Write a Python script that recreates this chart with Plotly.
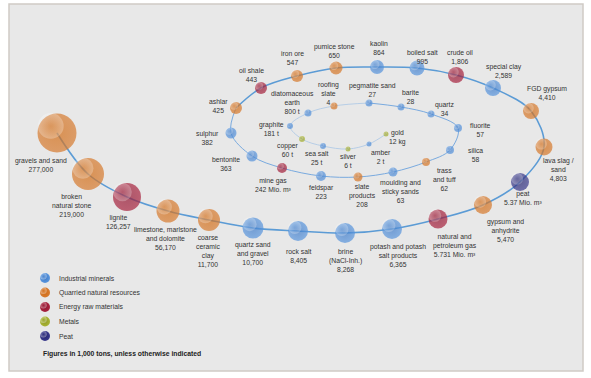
import plotly.graph_objects as go

# ---------------- data ----------------
names = ["gravels and sand", "broken<br>natural stone", "lignite", "limestone, marlstone<br>and dolomite",
         "coarse<br>ceramic<br>clay", "quartz sand<br>and gravel", "rock salt", "brine<br>(NaCl-Inh.)",
         "potash and potash<br>salt products", "natural and<br>petroleum gas", "gypsum and<br>anhydrite", "peat",
         "lava slag /<br>sand", "FGD gypsum", "special clay", "crude oil", "boiled salt", "kaolin",
         "pumice stone", "iron ore", "oil shale", "ashlar", "sulphur", "bentonite", "mine gas", "feldspar",
         "slate<br>products", "moulding and<br>sticky sands", "trass<br>and tuff", "silica", "fluorite", "quartz",
         "barite", "pegmatite sand", "roofing<br>slate", "diatomaceous<br>earth", "graphite", "copper",
         "sea salt", "silver", "amber", "gold"]
values = [277000, 219000, 126257, 56170, 11700, 10700, 8405, 8268, 6365, 5.731, 5470, 5.37, 4803, 4410,
          2589, 1806, 995, 864, 650, 547, 443, 425, 382, 363, 242, 223, 208, 63, 62, 58, 57, 34, 28, 27,
          4, 800, 181, 60, 25, 6, 2, 12]
units = ["", "", "", "", "", "", "", "", "", "Mio. m³", "", "Mio. m³", "", "", "", "", "", "", "", "",
         "", "", "", "", "Mio. m³", "", "", "", "", "", "", "", "", "", "", "t", "t", "t", "t", "t", "t", "kg"]
IM, QR, EN, ME, PE = "Industrial minerals", "Quarried natural resources", "Energy raw materials", "Metals", "Peat"
categories = [QR, QR, EN, QR, QR, IM, IM, IM, IM, EN, QR, PE, QR, QR, IM, EN, IM, IM, QR, QR, EN, QR,
              IM, IM, EN, IM, QR, IM, QR, IM, IM, IM, IM, IM, QR, IM, IM, ME, IM, ME, IM, ME]
legend_labels = [IM, QR, EN, ME, PE]
footnote = "Figures in 1,000 tons, unless otherwise indicated"

# ---------------- layout (pixel positions along the spiral) ----------------
pos_x = [57, 88, 127, 168, 209, 253, 298, 345, 392, 438, 483, 520, 544, 531, 493, 456, 417, 377, 336, 297,
         261, 236, 231, 252, 282, 321, 358, 393, 426, 450, 458, 431, 401, 369, 334, 308, 290, 302, 323, 348,
         369, 386]
pos_y = [133, 174, 197, 211, 220, 228, 231, 233, 229, 219, 205, 182, 147, 111, 88, 75, 68, 67, 68, 76,
         88, 108, 133, 156, 168, 176, 177, 172, 162, 150, 128, 114, 107, 103, 106, 113, 126, 139, 146, 149,
         144, 134]
diam = [39, 32, 28, 23, 22, 21, 20, 20, 20, 19, 18, 18, 17, 16, 16, 16, 15, 14, 13, 12, 12, 12, 11, 11,
        10, 10, 9, 9, 8, 8, 8, 7, 7, 7, 7, 7, 6, 6, 6, 5, 5, 5]
lab_x = [41, 72, 118, 165, 208, 253, 298, 345, 398, 455, 505, 523, 558, 547, 504, 460, 422, 379, 334, 292,
         251, 218, 207, 226, 273, 321, 362, 400, 444, 475, 480, 444, 410, 372, 328, 292, 271, 288, 317, 348,
         381, 397]
lab_y = [161, 197, 218, 230, 239, 245, 252, 252, 247, 237, 222, 194, 161, 89, 67, 53, 53, 44, 47, 54,
         71, 102, 134, 160, 181, 188, 187, 183, 171, 151, 126, 105, 93, 86, 85, 94, 125, 146, 154, 157,
         153, 133]

col_main = {IM: "#5a96dd", QR: "#d67b30", EN: "#a8243f", ME: "#a9b435", PE: "#3a3a8c"}
col_edge = {IM: "#3f7bc8", QR: "#d26c14", EN: "#921632", ME: "#909b24", PE: "#252570"}
TXT = "#333333"
FONT = "Arial, 'Liberation Sans', sans-serif"
FS = 6.8
LINE_H = 8.2


def fmt(v, u):
    if u:
        s = f"{v:g}" if isinstance(v, float) else f"{v}"
        return f"{s} {u}"
    return f"{v:,}"


fig = go.Figure()

# spiral line segments
segs = [(0, 22, "#5b9bd5", 1.6), (21, 34, "#79aadf", 1.0), (33, 42, "#a9c6e6", 0.8)]
for a, b, c, w in segs:
    fig.add_trace(go.Scatter(x=pos_x[a:b], y=pos_y[a:b], mode="lines",
                             line=dict(color=c, width=w, shape="spline", smoothing=1.0),
                             hoverinfo="skip", showlegend=False))

# bubbles
for cat in legend_labels:
    idx = [i for i, c in enumerate(categories) if c == cat]
    if not idx:
        continue
    fig.add_trace(go.Scatter(
        x=[pos_x[i] for i in idx], y=[pos_y[i] for i in idx], mode="markers",
        marker=dict(size=[diam[i] for i in idx], color=col_main[cat],
                    gradient=dict(type="radial", color=col_edge[cat]), line=dict(width=0)),
        text=[names[i].replace("<br>", " ") for i in idx], hoverinfo="text", showlegend=False))

# soft highlights
fig.add_trace(go.Scatter(
    x=[pos_x[i] - 0.16 * diam[i] for i in range(len(diam))],
    y=[pos_y[i] - 0.18 * diam[i] for i in range(len(diam))],
    mode="markers",
    marker=dict(size=[0.66 * d for d in diam], color="rgba(255,255,255,0.38)",
                gradient=dict(type="radial", color="rgba(255,255,255,0)"), line=dict(width=0)),
    hoverinfo="skip", showlegend=False))

annotations = []
for i in range(len(names)):
    txt = names[i] + "<br>" + fmt(values[i], units[i])
    n = txt.count("<br>") + 1
    annotations.append(dict(x=lab_x[i], y=lab_y[i] + (n - 1) * LINE_H / 2, text=txt, showarrow=False,
                            xref="x", yref="y", xanchor="center", yanchor="middle", align="center",
                            font=dict(family=FONT, size=FS, color=TXT)))

# legend (drawn)
leg_x, leg_y0, leg_dy = 45, 278, 14.5
for k, cat in enumerate(legend_labels):
    yy = leg_y0 + k * leg_dy
    fig.add_trace(go.Scatter(x=[leg_x], y=[yy], mode="markers",
                             marker=dict(size=10, color=col_main[cat],
                                         gradient=dict(type="radial", color=col_edge[cat]), line=dict(width=0)),
                             hoverinfo="skip", showlegend=False))
    fig.add_trace(go.Scatter(x=[leg_x - 1.6], y=[yy - 1.8], mode="markers",
                             marker=dict(size=6.6, color="rgba(255,255,255,0.38)",
                                         gradient=dict(type="radial", color="rgba(255,255,255,0)"),
                                         line=dict(width=0)),
                             hoverinfo="skip", showlegend=False))
    annotations.append(dict(x=57, y=yy, text=cat, showarrow=False, xref="x", yref="y",
                            xanchor="left", yanchor="middle",
                            font=dict(family=FONT, size=FS, color=TXT)))

annotations.append(dict(x=41, y=354, text="<b>" + footnote + "</b>", showarrow=False, xref="x", yref="y",
                        xanchor="left", yanchor="middle", font=dict(family=FONT, size=FS, color="#222222")))

fig.update_layout(
    width=591, height=378, autosize=False,
    margin=dict(l=0, r=0, t=0, b=0),
    paper_bgcolor="white", plot_bgcolor="white",
    xaxis=dict(range=[0, 591], visible=False, fixedrange=True),
    yaxis=dict(range=[378, 0], visible=False, fixedrange=True),
    shapes=[dict(type="rect", xref="x", yref="y", x0=9, y0=4, x1=583, y1=371,
                 fillcolor="#e8e8e8", line=dict(color="#cfcac5", width=1.5), layer="below")],
    annotations=annotations,
    showlegend=False,
)

fig.write_html("out.html", config={"displayModeBar": False},
               post_script="document.body.style.margin='0';document.body.style.overflow='hidden';")
